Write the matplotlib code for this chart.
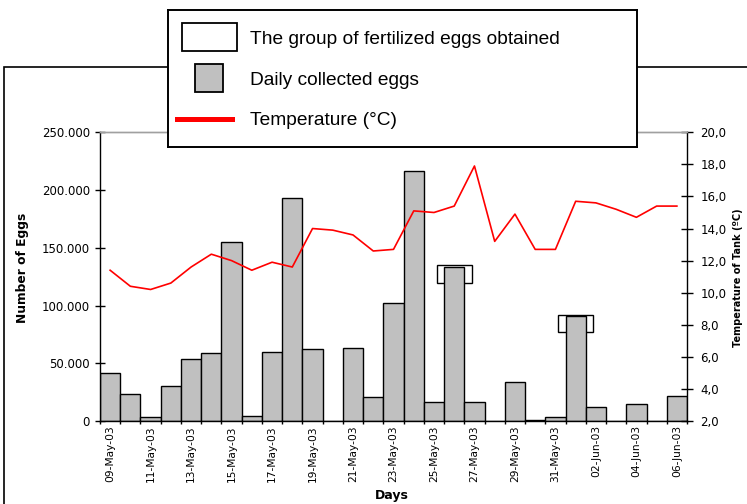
import matplotlib
matplotlib.use("Agg")
import matplotlib.pyplot as plt
from matplotlib.patches import Rectangle
from matplotlib.lines import Line2D
from matplotlib.ticker import FixedLocator, FuncFormatter

# ---------------- data ----------------
days = ["09-May-03", "10-May-03", "11-May-03", "12-May-03", "13-May-03", "14-May-03",
        "15-May-03", "16-May-03", "17-May-03", "18-May-03", "19-May-03", "20-May-03",
        "21-May-03", "22-May-03", "23-May-03", "24-May-03", "25-May-03", "26-May-03",
        "27-May-03", "28-May-03", "29-May-03", "30-May-03", "31-May-03", "01-Jun-03",
        "02-Jun-03", "03-Jun-03", "04-Jun-03", "05-Jun-03", "06-Jun-03"]
eggs = [41300, 23100, 3200, 30600, 53400, 58600, 155000, 4300, 59700, 193400,
        62300, 0, 63500, 20800, 102200, 216500, 16700, 133600, 16700, 0,
        33500, 1000, 3200, 90600, 12100, 0, 14400, 0, 21600]
temperature = [11.4, 10.4, 10.2, 10.6, 11.6, 12.4, 12.0, 11.4, 11.9, 11.6,
               14.0, 13.9, 13.6, 12.6, 12.7, 15.1, 15.0, 15.4, 17.9, 13.2,
               14.9, 12.7, 12.7, 15.7, 15.6, 15.2, 14.7, 15.4, 15.4]
fertilized_days = ["26-May-03", "01-Jun-03"]
label_every = 2

# ---------------- figure ----------------
W, H = 747, 504
fig = plt.figure(figsize=(W / 100, H / 100), dpi=100)
plt.rcParams['font.family'] = ['DejaVu Sans']

def fx(px):
    return px / W

def fy(py):
    return 1 - py / H

left, right, top, bottom = 100, 687, 132.3, 421
ax = fig.add_axes([fx(left), fy(bottom), fx(right - left), (bottom - top) / H])

x = list(range(len(days)))
ax.bar(x, eggs, width=1.0, color="#C0C0C0", edgecolor="black", linewidth=1.0, zorder=2)

# fertilized groups boxes (behind bars)
for d in fertilized_days:
    i = days.index(d)
    v = eggs[i]
    ax.add_patch(Rectangle((i - 0.87, v - 13800), 1.74, 15400, fill=False,
                           edgecolor="black", linewidth=1.0, zorder=1))

ax.set_xlim(-0.5, len(days) - 0.5)
ax.set_ylim(0, 250000)
ax.set_yticks(range(0, 250001, 50000))
ax.yaxis.set_major_formatter(FuncFormatter(lambda v, p: f"{int(v):,}".replace(",", ".")))
ax.tick_params(axis="y", direction="inout", length=7, width=1, pad=3.7, labelsize=8.5)

ax.set_xticks(x[::label_every])
ax.set_xticklabels(days[::label_every], rotation=90, fontsize=7.7)
ax.xaxis.set_minor_locator(FixedLocator([i - 0.5 for i in range(len(days) + 1)]))
ax.tick_params(axis="x", which="major", length=0, pad=3)
ax.tick_params(axis="x", which="minor", direction="out", length=2.2, width=1)

ax2 = ax.twinx()
ax2.plot(x, temperature, color="#FF0000", linewidth=1.2, zorder=3)
ax2.set_ylim(2, 20)
ax2.set_yticks([2, 4, 6, 8, 10, 12, 14, 16, 18, 20])
ax2.yaxis.set_major_formatter(FuncFormatter(lambda v, p: f"{v:.1f}".replace(".", ",")))
ax2.tick_params(axis="y", direction="inout", length=8, width=1, pad=5.5, labelsize=8.5)

for a in (ax, ax2):
    a.spines["top"].set_color("#A0A0A0")
    a.spines["top"].set_linewidth(1.0)
ax.spines["right"].set_visible(False)
ax2.spines["left"].set_visible(False)
ax2.spines["bottom"].set_visible(False)
ax.spines["left"].set_linewidth(1.0)
ax.spines["bottom"].set_linewidth(1.0)
ax2.spines["right"].set_linewidth(1.0)

# axis labels
fig.text(fx(22.5), fy(268), "Number of Eggs", rotation=90, ha="center", va="center",
         fontsize=8.8, fontweight="bold")
fig.text(fx(738), fy(277.5), "Temperature of Tank (ºC)", rotation=90, ha="center",
         va="center", fontsize=7, fontweight="bold")
fig.text(fx(392), fy(496), "Days", ha="center", va="center", fontsize=9, fontweight="bold")

# outer chart frame
fig.add_artist(Rectangle((fx(4), fy(600)), fx(800), (600 - 67) / H, transform=fig.transFigure,
                         fill=False, edgecolor="black", linewidth=1.2, zorder=-5))

# legend box
lx0, lx1, ly0, ly1 = 168, 637, 10, 147
lg = fig.add_axes([fx(lx0), fy(ly1), fx(lx1 - lx0), (ly1 - ly0) / H], zorder=10)
lg.set_xlim(lx0, lx1)
lg.set_ylim(ly1, ly0)
lg.set_xticks([])
lg.set_yticks([])
lg.set_facecolor("white")
for s in lg.spines.values():
    s.set_linewidth(1.4)
    s.set_color("black")
lg.add_patch(Rectangle((181.7, 23.3), 55.6, 27.4, facecolor="white", edgecolor="black", linewidth=1.3))
lg.add_patch(Rectangle((195, 64.3), 28.3, 27.4, facecolor="#C0C0C0", edgecolor="black", linewidth=1.3))
lg.add_line(Line2D([177.3, 232.3], [119, 119], color="#FF0000", linewidth=3.6))
legend_labels = ["The group of fertilized eggs obtained", "Daily collected eggs", "Temperature (°C)"]
for lab, yb in zip(legend_labels, [43.5, 85, 125]):
    lg.text(250, yb, lab, ha="left", va="baseline", fontsize=13.8, family=["Liberation Sans", "DejaVu Sans"])

fig.savefig("out.png", dpi=100)
